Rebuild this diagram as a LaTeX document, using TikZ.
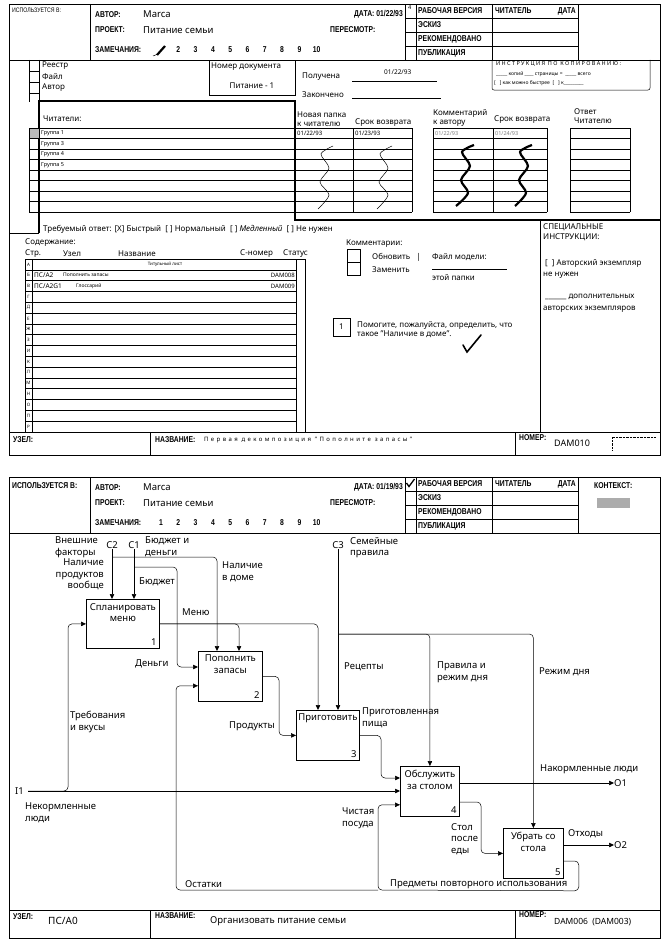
\documentclass[tikz,border=0pt]{standalone}
\usepackage{fontspec}
\setmainfont{Noto Sans}
\newfontfamily\capfont[FakeStretch=0.8]{Liberation Sans}
\usetikzlibrary{arrows.meta, positioning, calc, patterns}

\tikzset{
  thin line/.style={line width=0.5pt},
  heavy line/.style={line width=1.5pt},
  txt/.style={inner sep=0pt, anchor=west, font=\fontsize{8}{9.5}\selectfont},
  lbl/.style={inner sep=0pt, anchor=west, align=left, font=\fontsize{9.5}{11.5}\selectfont},
  caps/.style={inner sep=0pt, anchor=west, font=\capfont\bfseries\fontsize{8.5}{10}\selectfont},
  tinytxt/.style={inner sep=0pt, anchor=west, font=\fontsize{5.5}{6.5}\selectfont},
  func/.style={draw, line width=0.8pt, anchor=north west, inner sep=0pt},
  flow/.style={line width=0.5pt, rounded corners=4pt, -{Triangle[length=5pt, width=4.5pt]}},
}

\begin{document}
\begin{tikzpicture}[x=1pt, y=-1pt]
\useasboundingbox (0,0) rectangle (663,942);

% Marcos
\draw[thin line] (9,4) rectangle (660,455);
\draw[thin line] (9,477) rectangle (660,938);

% Cabecera
\foreach \oy in {0,473} {
  \draw[thin line] (9,{60+\oy}) -- (660,{60+\oy});
  \draw[thin line] (90,{4+\oy}) -- (90,{60+\oy});
  \draw[line width=0.9pt] (405,{4+\oy}) rectangle (578,{60+\oy});
  \foreach \r in {18,32,46} \draw[line width=0.9pt] (405,{\r+\oy}) -- (578,{\r+\oy});
  \draw[line width=0.9pt] (416,{4+\oy}) -- (416,{60+\oy}) (492,{4+\oy}) -- (492,{60+\oy});
  \node[caps] (author\oy) at (95,{15+\oy}) {АВТОР:};
  \node[txt, font=\fontsize{9.5}{11}\selectfont] (authname\oy) at (143,{14+\oy}) {Marca};
  \node[caps] (proj\oy) at (95,{30+\oy}) {ПРОЕКТ:};
  \node[txt, font=\fontsize{9.5}{11}\selectfont] (projname\oy) at (143,{30+\oy}) {Питание семьи};
  \node[caps] (notes\oy) at (95,{50+\oy}) {ЗАМЕЧАНИЯ:};
  \foreach \n [count=\i] in {2,...,10}
    \node[caps, anchor=center] (num\oy-\n) at ({161+17.3*\i},{50+\oy}) {\n};
  \node[caps] (rev\oy) at (330,{30+\oy}) {ПЕРЕСМОТР:};
  \node[caps] (st1\oy) at (418,{11+\oy}) {РАБОЧАЯ ВЕРСИЯ};
  \node[caps] (st2\oy) at (495,{11+\oy}) {ЧИТАТЕЛЬ};
  \node[caps, anchor=east] (st3\oy) at (576,{11+\oy}) {ДАТА};
  \node[caps] (st4\oy) at (418,{25+\oy}) {ЭСКИЗ};
  \node[caps] (st5\oy) at (418,{39+\oy}) {РЕКОМЕНДОВАНО};
  \node[caps] (st6\oy) at (418,{53+\oy}) {ПУБЛИКАЦИЯ};
}
\node[caps, font=\capfont\fontsize{6.5}{7}\selectfont] (used1) at (12,10) {ИСПОЛЬЗУЕТСЯ В:};
\node[caps, anchor=east] (date1) at (403,14) {ДАТА: 01/22/93};
\node[tinytxt] (four) at (408,8) {4};
\draw[line width=2.2pt] (157,55) -- (165,46);
\draw[thin line] (153,56) -- (158,54);
\node[caps] (used2) at (12,486) {ИСПОЛЬЗУЕТСЯ В:};
\node[caps, anchor=east] (date2) at (403,487) {ДАТА: 01/19/93};
\node[caps, anchor=center] (num473-1) at (161,523) {1};
\draw[line width=1.3pt] (406.5,483) -- (409,486.5) -- (414.5,479);
\node[caps] (ctx) at (594,486) {КОНТЕКСТ:};
\fill[gray!65] (597,498) rectangle (630,508);

% Lista 1: registro
\draw[thin line] (29,60) -- (29,102) (39,60) -- (39,101);
\foreach \yy in {71,82,93} \draw[thin line] (29,\yy) -- (39,\yy);
\node[txt] (reg) at (42,66) {Реестр};
\node[txt] (file) at (42,77) {Файл};
\node[txt] (auth) at (42,88) {Автор};
\draw[thin line] (209,60) rectangle (295,95);
\node[txt] (ndoc) at (211,67) {Номер документа};
\node[txt, anchor=center] (ndocv) at (252,86) {Питание - 1};

% Lista 1: lectores
\draw[heavy line] (39,233) -- (39,101) -- (295,101) -- (295,220) -- (660,220);
\node[txt] (readers) at (43,119) {Читатели:};
\foreach \k in {0,...,8}
  \draw[thin line] (29,{128+10.5*\k}) -- (412,{128+10.5*\k})
                   (433,{128+10.5*\k}) -- (547,{128+10.5*\k})
                   (570,{128+10.5*\k}) -- (630,{128+10.5*\k});
\foreach \xx in {29,353,412,433,493,547,570,630} \draw[thin line] (\xx,128) -- (\xx,212);
\fill[gray!55] (29.5,128.5) rectangle (38.5,138);
\foreach \g [count=\i] in {1,3,4,5}
  \node[tinytxt, font=\fontsize{5.5}{6.5}\selectfont\bfseries] (grp\g) at (41,{122.75+10.5*\i}) {Группа \g};
\node[txt, align=left, anchor=south west] (h1) at (297,127) {Новая папка\\к читателю};
\node[txt, anchor=south west] (h2) at (355,127) {Срок возврата};
\node[txt, align=left, anchor=south west] (h3) at (433,127) {Комментарий\\к автору};
\node[txt, anchor=south west] (h4) at (494,124) {Срок возврата};
\node[txt, align=left, anchor=south west] (h5) at (574,124) {Ответ\\Читателю};
\node[tinytxt, font=\fontsize{6}{7}\selectfont\bfseries] (dt1) at (297,133.3) {01/22/93};
\node[tinytxt, font=\fontsize{6}{7}\selectfont\bfseries] (dt2) at (355,133.3) {01/23/93};
\node[tinytxt, text=gray] (dt3) at (435,133.3) {01/22/93};
\node[tinytxt, text=gray] (dt4) at (495,133.3) {01/24/93};
\draw[thin line] plot[smooth] coordinates {(333,146) (321,154) (329,168) (320,182) (329,195) (318,209)};
\draw[thin line] plot[smooth] coordinates {(392,146) (380,154) (388,168) (379,182) (388,195) (377,209)};
\draw[line width=2.2pt] plot[smooth] coordinates {(474,145) (462,152) (470,166) (461,180) (468,193) (456,206)};
\draw[line width=2.2pt] plot[smooth] coordinates {(532,145) (520,152) (528,166) (519,180) (526,193) (515,206)};

% Lista 1: fechas y copias
\node[txt] (recv) at (302,77) {Получена};
\draw[thin line] (352,81) -- (437,81);
\node[tinytxt, font=\fontsize{6.5}{7}\selectfont] (recvd) at (384,72) {01/22/93};
\node[txt] (done) at (302,95) {Закончено};
\draw[thin line] (352,98) -- (441,98);
\draw[thin line, rounded corners=2pt] (492,60) -- (492,90) -- (650,90) -- (650,60);
\node[tinytxt, font=\fontsize{5.5}{6.5}\selectfont\addfontfeature{LetterSpace=25}] (copy1) at (496,64) {ИНСТРУКЦИЯ ПО КОПИРОВАНИЮ:};
\node[tinytxt, font=\fontsize{5}{6}\selectfont] (copy2) at (496,74) {\_\_\_\_\_ копий \_\_\_\_ страницы = \ \_\_\_\_\_ всего};
\node[tinytxt, font=\fontsize{5}{6}\selectfont] (copy3) at (494,83) {[ \ \ ] как можно быстрее \ [ \ \ ] к\_\_\_\_\_\_\_\_\_};

% Lista 1: contenido
\draw[thin line] (9,233) -- (39,233);
\node[txt] (resp) at (43,229) {Требуемый ответ: [X] Быстрый \ [ ] Нормальный \ [ ] \textit{Медленный} \ [ ] Не нужен};
\node[txt] (cont) at (25,243) {Содержание:};
\node[txt] (ch1) at (25,254) {Стр.};
\node[txt] (ch2) at (63,254) {Узел};
\node[txt] (ch3) at (118,254) {Название};
\node[txt] (ch4) at (240,254) {С-номер};
\node[txt] (ch5) at (283,254) {Статус};
\foreach \k in {0,...,16} \draw[thin line] (25,{259+10.8*\k}) -- (296,{259+10.8*\k});
\draw[thin line] (296,259) -- (305,259);
\foreach \xx in {25,32,296,305} \draw[thin line] (\xx,259) -- (\xx,432);
\foreach \l [count=\i from 0] in {А,Б,В,Г,Д,Е,Ж,З,И,К,Л,М,Н,О,П,Р}
  \node[tinytxt, anchor=center, font=\fontsize{4.5}{5}\selectfont] (pg\i) at (28.5,{264.4+10.8*\i}) {\l};
\node[tinytxt, anchor=center, font=\fontsize{4.5}{5}\selectfont] (title) at (165,264.4) {Титульный лист};
\node[tinytxt, font=\fontsize{6.5}{7}\selectfont\bfseries] (r2a) at (34,275.2) {ПС/А2};
\node[tinytxt, font=\fontsize{5}{6}\selectfont\bfseries] (r2b) at (63,275.2) {Пополнить запасы};
\node[tinytxt, anchor=east, font=\fontsize{6}{7}\selectfont\bfseries] (r2c) at (295,275.2) {DAM008};
\node[tinytxt, font=\fontsize{6.5}{7}\selectfont\bfseries] (r3a) at (34,286) {ПС/А2G1};
\node[tinytxt, font=\fontsize{5}{6}\selectfont\bfseries] (r3b) at (76,286) {Глоссарий};
\node[tinytxt, anchor=east, font=\fontsize{6}{7}\selectfont\bfseries] (r3c) at (295,286) {DAM009};

% Lista 1: comentarios
\node[txt] (comm) at (346,244) {Комментарии:};
\draw[thin line] (347,249) rectangle (360,275) (347,262) -- (360,262);
\node[txt] (upd) at (372,257) {Обновить \ \ |};
\node[txt] (repl) at (372,270) {Заменить};
\node[txt] (mfile) at (432,257) {Файл модели:};
\draw[thin line] (432,269) -- (507,269);
\node[txt] (fold) at (432,278) {этой папки};
\node[draw, line width=1pt, minimum width=17pt, minimum height=18pt, inner sep=0pt, font=\fontsize{8}{9}\selectfont] (note1) at (341.5,327) {1};
\node[txt, align=left, anchor=north west] (note1t) at (357,321) {Помогите, пожалуйста, определить, что\\такое "Наличие в доме".};
\draw[line width=1.6pt, line cap=round] (463,345) -- (467,352) -- (481,335);
\draw[thin line] (540,220) -- (540,432);
\node[txt, align=left, anchor=north west] (spec) at (543,224) {СПЕЦИАЛЬНЫЕ\\ИНСТРУКЦИИ:};
\node[txt] (spec1) at (545,263) {[ \ ] Авторский экземпляр};
\node[txt] (spec2) at (543,275) {не нужен};
\node[txt] (spec3) at (545,297) {\_\_\_\_\_\_ дополнительных};
\node[txt] (spec4) at (543,309) {авторских экземпляров};

% Lista 1: pie
\draw[thin line] (9,432) -- (660,432) (150,432) -- (150,455) (515,432) -- (515,455);
\node[caps] (node1) at (13,440) {УЗЕЛ:};
\node[caps] (name1) at (155,440) {НАЗВАНИЕ:};
\node[tinytxt, font=\fontsize{6}{7}\selectfont\addfontfeature{LetterSpace=40}] (name1t) at (204,440) {Первая декомпозиция "Пополните запасы"};
\node[caps] (nr1) at (519,438) {НОМЕР:};
\node[txt, font=\fontsize{9}{10}\selectfont] (nr1t) at (554,443) {DAM010};
\draw[densely dotted] (612,450) -- (612,437) -- (656,437);

% Lista 2: pie
\draw[thin line] (9,910) -- (660,910) (150,910) -- (150,938) (515,910) -- (515,938);
\node[caps] (node2) at (13,917) {УЗЕЛ:};
\node[txt, font=\fontsize{10}{11}\selectfont] (node2t) at (48,921) {ПС/А0};
\node[caps] (name2) at (155,916) {НАЗВАНИЕ:};
\node[txt, font=\fontsize{9.5}{11}\selectfont] (name2t) at (210,921) {Организовать питание семьи};
\node[caps] (nr2) at (519,915) {НОМЕР:};
\node[txt, font=\fontsize{8.5}{10}\selectfont] (nr2t) at (554,922) {DAM006 \ (DAM003)};

% Diagrama: bloques
\node[func, minimum width=73pt, minimum height=49pt] (box1) at (86,599) {};
\node[func, minimum width=64pt, minimum height=50pt] (box2) at (198,651) {};
\node[func, minimum width=63pt, minimum height=50pt] (box3) at (296,710) {};
\node[func, minimum width=59pt, minimum height=50pt] (box4) at (400,766) {};
\node[func, minimum width=60pt, minimum height=50pt] (box5) at (503,828) {};
\foreach \b/\t in {1/{Спланировать\\меню}, 2/{Пополнить\\запасы}, 3/{Приготовить}, 4/{Обслужить\\за столом}, 5/{Убрать со\\стола}} {
  \node[lbl, anchor=north, align=center] (box\b name) at ($(box\b.north)+(0,4)$) {\t};
  \node[lbl, anchor=south east] (box\b num) at ($(box\b.south east)+(-3,-3)$) {\b};
}

% Diagrama: bordes
\node[lbl, anchor=south] (c2) at (112,549) {C2};
\node[lbl, anchor=south] (c1) at (134,549) {C1};
\node[lbl, anchor=south] (c3) at (338,549) {C3};
\node[lbl] (i1) at (15,791) {I1};
\node[lbl] (o1) at (614,783) {O1};
\node[lbl] (o2) at (614,845) {O2};
\coordinate (i1s) at ($(i1.east)+(4,0)$);
\coordinate (reuse) at (378,890);

% Diagrama: flechas
\draw[flow] (c2.south) -- (c2.south |- box1.north);
\draw[flow] (c1.south) -- (c1.south |- box1.north);
\draw[flow] ($(c2.south)+(0,8)$) -| ($(box2.north west)+(19,0)$);
\draw[flow] ($(c1.south)+(0,18)$) -| ($(box2.north west)+(-21,16)$) -- ($(box2.north west)+(0,16)$);
\draw[flow] (box1.east) -| ($(box2.north west)+(41,0)$);
\draw[flow] (box1.east) -| ($(box3.north west)+(22,0)$);
\draw[flow] (i1s) -| ($(box1.west)+(-18,0)$) -- (box1.west);
\draw[flow] (i1s) -- (i1s -| box4.west);
\draw[flow] (box2.east) -| ($(box3.west)+(-17,0)$) -- (box3.west);
\draw[flow] (c3.south) -- (c3.south |- box3.north);
\draw[flow] ($(c3.south)+(0,85)$) -| (box4.north);
\draw[flow] ($(c3.south)+(0,85)$) -| (box5.north);
\draw[flow] (box3.east) -| ($(box4.north west)+(-19,12)$) -- ($(box4.north west)+(0,12)$);
\draw[flow] ($(box4.north east)+(0,17)$) -- (o1.west);
\draw[flow] ($(box4.north east)+(0,36)$) -| ($(box5.west)+(-22,0)$) -- (box5.west);
\draw[flow] ($(box5.north east)+(0,17)$) -- (o2.west);
\draw[flow] ($(box5.north east)+(0,33)$) -| ($(box5.south east)+(15,12)$) -- (reuse) |- ($(box4.south west)+(0,-12)$);
\draw[flow] (reuse) -| ($(box2.south west)+(-22,-16)$) -- ($(box2.south west)+(0,-16)$);

% Diagrama: etiquetas
\node[lbl, anchor=north west] (ext) at (55,537) {Внешние\\факторы};
\node[lbl, anchor=north west] (budg) at (145,537) {Бюджет и\\деньги};
\node[lbl, anchor=north west] (fam) at (350,537) {Семейные\\правила};
\node[lbl, anchor=north east, align=right] (avail) at (104,559) {Наличие\\продуктов\\вообще};
\node[lbl] (budg2) at (139,582) {Бюджет};
\node[lbl, anchor=north west] (home) at (222,562) {Наличие\\в доме};
\node[lbl] (menu) at (182,612) {Меню};
\node[lbl] (money) at (135,664) {Деньги};
\node[lbl, anchor=north west] (req) at (70,711) {Требования\\и вкусы};
\node[lbl] (prod) at (229,726) {Продукты};
\node[lbl] (recp) at (344,667) {Рецепты};
\node[lbl, anchor=north west] (rules) at (437,662) {Правила и\\режим дня};
\node[lbl] (day) at (539,672) {Режим дня};
\node[lbl, anchor=north west] (food) at (362,708) {Приготовленная\\пища};
\node[lbl] (fed) at (540,769) {Накормленные люди};
\node[lbl, anchor=north west] (hungry) at (25,803) {Некормленные\\люди};
\node[lbl, anchor=north west] (dish) at (342,808) {Чистая\\посуда};
\node[lbl, anchor=north west] (table) at (451,823) {Стол\\после\\еды};
\node[lbl] (waste) at (568,834) {Отходы};
\node[lbl] (items) at (390,884) {Предметы повторного использования};
\node[lbl] (left) at (185,884) {Остатки};
\end{tikzpicture}
\end{document}
